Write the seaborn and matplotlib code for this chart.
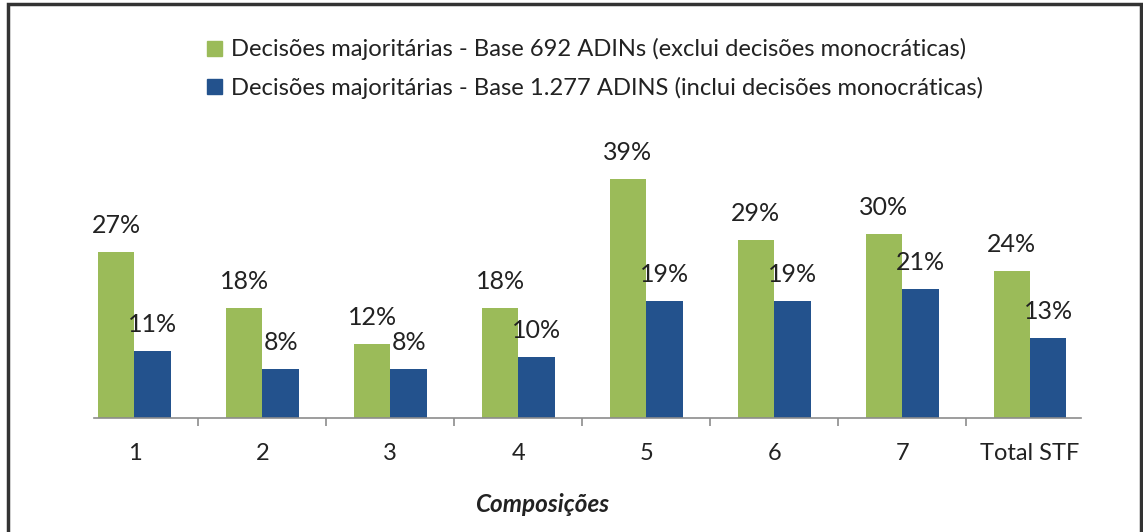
import matplotlib
matplotlib.use("Agg")
import matplotlib.pyplot as plt
import numpy as np
import pandas as pd
import seaborn as sns
from matplotlib.patches import Rectangle

categories = ["1", "2", "3", "4", "5", "6", "7", "Total STF"]
base_692 = [27, 18, 12, 18, 39, 29, 30, 24]
base_1277 = [11, 8, 8, 10, 19, 19, 21, 13]
series_names = [
    "Decisões majoritárias - Base 692 ADINs (exclui decisões monocráticas)",
    "Decisões majoritárias - Base 1.277 ADINS (inclui decisões monocráticas)",
]
colors = ["#9BBB59", "#23528D"]

df = pd.DataFrame({
    "cat": categories * 2,
    "valor": base_692 + base_1277,
    "serie": [series_names[0]] * len(categories) + [series_names[1]] * len(categories),
})

sns.set_theme(style="white")
plt.rcParams["font.family"] = ["Lato", "DejaVu Sans"]

fig = plt.figure(figsize=(11.43, 5.32), dpi=100)
ax = fig.add_axes([70.5 / 1143, (532 - 418) / 532, 1023.5 / 1143, 276 / 532])

sns.barplot(data=df, x="cat", y="valor", hue="serie", palette=colors,
            width=0.57, gap=0, saturation=1, linewidth=0, ax=ax, legend=False)

ax.set_ylim(0, 45)
ax.set_xlim(-0.5, len(categories) - 0.5)
ax.set_yticks([])
ax.set_ylabel("")
ax.set_xlabel("")
for s in ["top", "left", "right"]:
    ax.spines[s].set_visible(False)
ax.spines["bottom"].set_color("#8c8c8c")
ax.spines["bottom"].set_linewidth(1.2)
ax.spines["bottom"].set_bounds(-0.32, 7.40)
ax.set_xticks(np.arange(len(categories))[:-1] + 0.5, minor=True)
ax.tick_params(axis="x", which="major", bottom=False, labelsize=17, colors="#222222", pad=12)
ax.tick_params(axis="x", which="minor", bottom=True, length=6, color="#8c8c8c", width=1.2)

for cont in ax.containers:
    for bar in cont:
        h = bar.get_height()
        ax.annotate(f"{h:.0f}%", (bar.get_x() + bar.get_width() / 2, h),
                    xytext=(0, 13.7), textcoords="offset points",
                    ha="center", va="baseline", fontsize=18, color="#222222")

fig.text(542 / 1143, 1 - 505 / 532, "Composições", ha="center", va="center",
         fontsize=17.5, fontweight="bold", fontstyle="italic", color="#222222")

handles = [Rectangle((0, 0), 1, 1, color=c) for c in colors]
fig.legend(handles, series_names, loc="upper left",
           bbox_to_anchor=(186 / 1143, 1 - 17 / 532), frameon=False,
           fontsize=17.1, handlelength=0.6, handleheight=0.6,
           handletextpad=0.4, labelspacing=0.68, labelcolor="#222222")

fig.patches.append(Rectangle((8 / 1143, -0.05), (1141 - 8) / 1143, 1.05 - 4 / 532,
                             transform=fig.transFigure, fill=False,
                             edgecolor="#333333", linewidth=2.5))

fig.savefig("out.png", dpi=100)
